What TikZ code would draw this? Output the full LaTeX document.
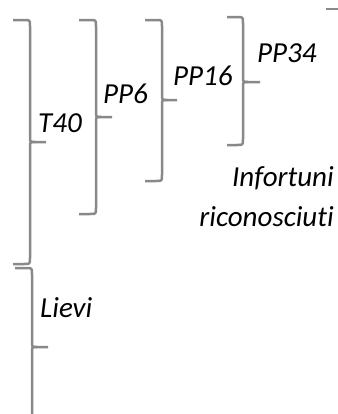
\documentclass[tikz,border=0pt]{standalone}
\usepackage{fontspec}
\setmainfont{Carlito}[Ligatures=NoCommon]
\usepackage{tikz}
\usetikzlibrary{positioning}
\definecolor{bracegray}{RGB}{137,137,137}
\tikzset{
  brk/.style={draw=bracegray, line width=2.5bp, line cap=butt, line join=round},
  lbl/.style={inner sep=0pt, font=\itshape\fontsize{29bp}{37bp}\selectfont}
}

\begin{document}
\begin{tikzpicture}[x=1bp,y=-1bp]
\useasboundingbox (0,0) rectangle (338,414);
% T40
\draw[brk] (13,20) -- (24,20) .. controls (30,20) .. (30,26) -- (30,137) .. controls (30,142) .. (35,142) -- (46,142);
\draw[brk] (35,142) .. controls (30,142) .. (30,147) -- (30,258) .. controls (30,264) .. (24,264) -- (13,264);
\node[lbl, anchor=base west] (t40) at (38,132) {T40};
% PP6
\draw[brk] (79,20) -- (90,20) .. controls (96,20) .. (96,26) -- (96,112) .. controls (96,117) .. (101,117) -- (112,117);
\draw[brk] (101,117) .. controls (96,117) .. (96,122) -- (96,208) .. controls (96,214) .. (90,214) -- (79,214);
\node[lbl, anchor=base west] (pp6) at (103,103) {PP6};
% PP16
\draw[brk] (145,20) -- (156,20) .. controls (162,20) .. (162,26) -- (162,95) .. controls (162,100) .. (167,100) -- (177,100);
\draw[brk] (167,100) .. controls (162,100) .. (162,105) -- (162,175) .. controls (162,181) .. (156,181) -- (145,181);
\node[lbl, anchor=base west] (pp16) at (173,85) {PP16};
% PP34
\draw[brk] (227,17) -- (237,17) .. controls (243,17) .. (243,23) -- (243,77) .. controls (243,82) .. (248,82) -- (260,82);
\draw[brk] (248,82) .. controls (243,82) .. (243,87) -- (243,139) .. controls (243,145) .. (237,145) -- (227,145);
\node[lbl, anchor=base west] (pp34) at (257,62) {PP34};
% outer brace, cut at the edge
\draw[brk] (326,9) -- (338,9);
\node[lbl, anchor=base east, align=right] (infortuni) at (334,226) {Infortuni\\[3bp]riconosciuti};
% Lievi
\draw[brk] (15,268) -- (26,268) .. controls (32,268) .. (32,274) -- (32,342) .. controls (32,347) .. (37,347) -- (48,347);
\draw[brk] (37,347) .. controls (32,347) .. (32,352) -- (32,420);
\node[lbl, anchor=base west] (lievi) at (40,317) {Lievi};
\end{tikzpicture}
\end{document}
